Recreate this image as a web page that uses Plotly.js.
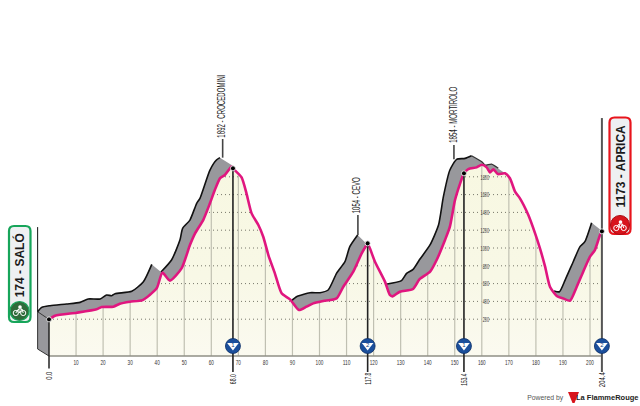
<!DOCTYPE html>
<html><head><meta charset="utf-8">
<script src="https://cdn.plot.ly/plotly-3.0.1.min.js"></script>
<style>html,body{margin:0;padding:0;background:#fff}#c{width:640px;height:406px}</style>
</head><body><div id="c"></div>
<script>
const kmTicks=[10,20,30,40,50,60,70,80,90,100,110,120,130,140,150,160,170,180,190,200];
const altTicks=[200,400,600,800,1000,1200,1400,1600,1800];
const frontKm=[0,2.2,10.2,17.6,19.5,23.8,26.2,29.9,34.6,39.8,41.9,44.7,49,52.1,54,57,59.5,61.3,63.2,65,67.5,68,71.2,73,74.9,77.4,79.2,81.1,83.5,86,89.1,92.4,95.2,97.7,101.4,106.3,108.8,112.5,115.6,117.4,117.8,120.5,124.2,126,127,129.7,134.6,137,140.9,143.3,146.4,148.2,150.1,152,153.4,155,158.1,160,161.8,163,164.3,165.9,168.6,170.4,172.3,174.1,177.2,179.7,181.5,183.4,185.2,187.7,190.1,192.6,195.1,197.5,200,201.8,203.7,204.4];
const frontAlt=[198,239,273,311,337,341,374,397,415,547,723,633,771,1033,1165,1314,1502,1651,1783,1820,1914,1895,1794,1614,1389,1258,1127,921,715,491,423,303,341,378,404,434,565,734,940,1034,1052,846,622,472,457,509,539,650,734,865,1090,1240,1539,1726,1839,1887,1906,1936,1906,1850,1884,1831,1839,1783,1633,1558,1371,1165,996,790,565,461,434,408,565,734,902,977,1146,1187];
const back1Km=[-4.2,-2.7,0.4,6.5,11.5,14.5,18.9,21.3,23.2,24.4,30.6,34.9,38,41.4,45.3,48.4,49.4,52.1,54.6,55.8,59.5,61.9,63.2,67.5];
const back1Alt=[284,333,352,371,389,427,427,472,464,487,513,621,816,730,865,1089,1221,1314,1502,1558,1876,1989,2015,1932];
const back2Km=[89.7,91.5,96.5,100.2,103.2,106.3,109.4,111.2,114.1,117.2];
const back2Alt=[408,453,498,498,528,715,846,1015,1146,1052];
const back3Km=[125,130.3,132.2,134.6,137,140.85,144,145.8,148.2,150.7,153.8,156.2,160,161.2,163.6,166.1,168.6];
const back3Alt=[595,633,715,760,870,1034,1258,1577,1876,1996,2007,2037,1970,1932,1943,1895,1839];
const back4Km=[186.7,188.7,190.8,193.8,196.3,198.1,200.6,204];
const back4Alt=[517,509,640,846,1015,1071,1284,1202];
const wallKm=[-4.2,0];
const wallAlt=[-135,-214];
const checkKm=[68,117.8,153.4,204.4];
const checkLabels=['68.0','117.8','153.4','204.4'];
const checkNum=['1','2','1','2'];
const climbNames=['1892 - CROCEDOMINI','1054 - CEVO','1854 - MORTIROLO'];
const climbKm=[64.2,114.2,149.7];
const climbFoot=[2015,1146,1996];
const climbHead=[2225,1371,2157];

const W=640,H=406,K=2.705,M=0.089;
const xr=[-49/K,(W-49)/K], yr=[(337-H)/M,337/M];
const base=yr[0]+(H-356)/M;
const dropEnd=(337-372)/M, badgeY=(337-346)/M;
const X=p=>p/W, Y=p=>1-p/H;
const interp=(km)=>{for(let i=1;i<frontKm.length;i++){if(frontKm[i]>=km){const t=(km-frontKm[i-1])/(frontKm[i]-frontKm[i-1]);return frontAlt[i-1]+t*(frontAlt[i]-frontAlt[i-1]);}}return frontAlt[frontAlt.length-1];};
const slice=(a,b)=>{const xs=[],ys=[];frontKm.forEach((k,i)=>{if(k>=a&&k<=b){xs.push(k);ys.push(frontAlt[i]);}});return [xs,ys];};
const L=(x,y,color,width,dash,extra)=>Object.assign({x,y,mode:'lines',type:'scatter',hoverinfo:'skip',showlegend:false,line:{color,width,dash:dash||'solid',shape:'linear'}},extra||{});
const S=(x,y,color,width)=>{const t=L(x,y,color,width);t.line.shape='spline';t.line.smoothing=0.6;return t;};
const band=(bk,ba,a,b)=>{const [fx,fy]=slice(a,b);return L(bk.concat(fx.slice().reverse()),ba.concat(fy.slice().reverse()),'rgba(0,0,0,0)',0,null,{fill:'toself',fillcolor:'#98989c'});};

const traces=[];
traces.push(L([0,204.4,204.4,0,0],[2300,2300,base,base,2300],'rgba(0,0,0,0)',0,null,{fill:'toself',fillgradient:{type:'vertical',colorscale:[[0,'#fbfaf0'],[0.35,'#f8f8e6'],[1,'#f7f7e0']]}}));
altTicks.forEach(a=>traces.push(L([0,204.4],[a,a],'#77776a',1,'1px,3px')));
kmTicks.forEach(k=>traces.push(L([k,k],[base,2300],'#c0c0b2',1.2)));
traces.push(L(frontKm.concat([204.4,0,0]),frontAlt.concat([3000,3000,frontAlt[0]]),'rgba(0,0,0,0)',0,null,{fill:'toself',fillcolor:'#ffffff'}));
traces.push(L([wallKm[0],wallKm[0],0,0,wallKm[0]],[back1Alt[0],wallAlt[0],wallAlt[1],frontAlt[0],back1Alt[0]],'rgba(0,0,0,0)',0,null,{fill:'toself',fillcolor:'#98989c'}));
traces.push(band(back1Km,back1Alt,0,67.5));
traces.push(band(back2Km,back2Alt,89.1,117.4));
traces.push(band(back3Km,back3Alt,124.2,168.6));
traces.push(band(back4Km,back4Alt,187.7,203.7));
traces.push(L([wallKm[0],wallKm[0],0],[back1Alt[0],wallAlt[0],wallAlt[1]],'#333',1));
traces.push(L([wallKm[0],0],[back1Alt[0],frontAlt[0]],'#333',1));
traces.push(S(back1Km.slice(0,13),back1Alt.slice(0,13),'#111',1.6));
traces.push(S(back1Km.slice(13,23),back1Alt.slice(13,23),'#111',1.6));
traces.push(S(back2Km.slice(0,9),back2Alt.slice(0,9),'#111',1.6));
traces.push(S(back3Km.slice(0,12),back3Alt.slice(0,12),'#111',1.6));
traces.push(S(back3Km.slice(11,16),back3Alt.slice(11,16),'#333',1.2));
traces.push(S(back4Km.slice(0,7),back4Alt.slice(0,7),'#111',1.6));
traces.push(L([0,204.4],[base,base],'#8f8f86',1.5));
traces.push(L([0,0],[frontAlt[0],dropEnd+40],'#222',1.5));
climbKm.forEach((k,i)=>traces.push(L([k,k],[climbFoot[i],climbHead[i]],'#444',1.6)));
traces.push(L([wallKm[0],wallKm[0]],[back1Alt[0],1235],'#111',1));
traces.push(S(frontKm,frontAlt,'#e0167f',2.6));
checkKm.forEach((k,i)=>{
  const top=i===3?2460:interp(k);
  traces.push(L([k,k],[top,dropEnd],i===3?'#555':'#222',i===3?2:1.6));
});
traces.push({x:[0].concat(checkKm.slice(0,3),[204.4]),y:[frontAlt[0],interp(68),interp(117.8),interp(153.4),frontAlt[frontAlt.length-1]],mode:'markers',type:'scatter',hoverinfo:'skip',showlegend:false,marker:{color:'#000',size:5,line:{color:'#fff',width:0.8}}});
traces.push({x:checkKm,y:checkKm.map(()=>badgeY),mode:'markers',type:'scatter',hoverinfo:'skip',showlegend:false,marker:{symbol:'circle',color:'#1b4f9c',size:15,line:{color:'#0d2f66',width:0.8}}});
traces.push({x:checkKm,y:checkKm.map(()=>badgeY+5),mode:'markers+text',type:'scatter',hoverinfo:'skip',showlegend:false,marker:{symbol:'triangle-down',color:'#fff',size:10},text:checkNum,textposition:'middle center',textfont:{size:6,color:'#123a78',family:'Liberation Sans'}});

const fam='"Liberation Sans",sans-serif';
const ann=[];
const vtext=(x,y,text,size,color)=>({x,y,xref:'x',yref:'y',text,textangle:-90,showarrow:false,font:{size,color,family:fam},xanchor:'center',yanchor:'middle'});
ann.push(vtext(0,(337-376)/M,'0.0',9,'#333'));
checkKm.forEach((k,i)=>ann.push(vtext(k,(337-379)/M,checkLabels[i],9,'#222')));
const climbCentre=[(337-106.5)/M,(337-195.5)/M,(337-115)/M];
climbNames.forEach((n,i)=>ann.push(vtext(climbKm[i]-0.5,climbCentre[i],n,10,'#222')));
const pa=(x,y,text,size,color,angle)=>({xref:'paper',yref:'paper',x:X(x),y:Y(y),text,textangle:angle||0,showarrow:false,xanchor:'center',yanchor:'middle',font:{size,color,family:fam}});
ann.push(pa(19.3,265,'<b>174 - SALÓ</b>',12,'#1a1a1a',-90));
ann.push(pa(620,166.5,'<b>1173 - APRICA</b>',12,'#1a1a1a',-90));
ann.push(pa(545,397,'Powered by',8,'#555'));
ann.push(pa(607,397,'<b>La FlammeRouge</b>',7.5,'#222'));

const rr=(x0,y0,x1,y1,r)=>`M${X(x0+r)},${Y(y0)} L${X(x1-r)},${Y(y0)} Q${X(x1)},${Y(y0)} ${X(x1)},${Y(y0+r)} L${X(x1)},${Y(y1-r)} Q${X(x1)},${Y(y1)} ${X(x1-r)},${Y(y1)} L${X(x0+r)},${Y(y1)} Q${X(x0)},${Y(y1)} ${X(x0)},${Y(y1-r)} L${X(x0)},${Y(y0+r)} Q${X(x0)},${Y(y0)} ${X(x0+r)},${Y(y0)} Z`;
const P=(path,fill,lc,lw)=>({type:'path',xref:'paper',yref:'paper',path,fillcolor:fill||'rgba(0,0,0,0)',line:{color:lc||'rgba(0,0,0,0)',width:lw||0},layer:'below'});
const C=(cx,cy,r,fill,lc,lw)=>({type:'circle',xref:'paper',yref:'paper',x0:X(cx-r),x1:X(cx+r),y0:Y(cy+r),y1:Y(cy-r),fillcolor:fill,line:{color:lc||'rgba(0,0,0,0)',width:lw||0},layer:'above'});
const bike=(cx,cy)=>[
  C(cx-3.7,cy+2,2.6,'rgba(0,0,0,0)','#fff',1),
  C(cx+3.7,cy+2,2.6,'rgba(0,0,0,0)','#fff',1),
  Object.assign(P(`M${X(cx-3.7)},${Y(cy+2)} L${X(cx-1)},${Y(cy-2)} L${X(cx+2.5)},${Y(cy-2)} L${X(cx+3.7)},${Y(cy+2)} M${X(cx-1)},${Y(cy-2)} L${X(cx)},${Y(cy+2)} L${X(cx+2.5)},${Y(cy-2)}`,null,'#fff',1),{layer:'above'}),
  C(cx+0.5,cy-4,1.8,'#fff')
];
const shapes=[
  P(rr(9,226,30.5,322,5),'#eef0f2','#17a55a',2.2),
  C(19.5,311,9.5,'#2e6b3a','#17a55a',1.2),
  ...bike(19.5,311),
  P(rr(609.5,117.5,630.5,234,5),'#eef0f2','#e8141c',2.2),
  C(620,225,9.5,'#d8141c','#a80d14',1),
  ...bike(620,226),
  P(`M${X(568)},${Y(392)} L${X(579)},${Y(392)} L${X(574.5)},${Y(403)} L${X(572.5)},${Y(403)} Z`,'#d8141c')
];

const layout={width:W,height:H,margin:{l:0,r:0,t:0,b:0},paper_bgcolor:'#fff',plot_bgcolor:'rgba(0,0,0,0)',showlegend:false,
  xaxis:{range:xr,domain:[0,1],anchor:'free',position:(H-356)/H,showgrid:false,zeroline:false,showline:false,ticks:'',tickmode:'array',tickvals:kmTicks,ticktext:kmTicks.map(String),tickfont:{size:8,color:'#333',family:fam},ticklen:0},
  yaxis:{range:yr,domain:[0,1],anchor:'free',position:489/W,showgrid:false,zeroline:false,showline:false,ticks:'',tickmode:'array',tickvals:altTicks,ticktext:altTicks.map(String),tickfont:{size:8,color:'#333',family:fam},ticklen:0},
  annotations:ann,shapes};
const lengths={'0.0':8,'68.0':10,'117.8':12,'153.4':12,'204.4':15,'1892 - CROCEDOMINI':63,'1054 - CEVO':36,'1854 - MORTIROLO':56,'Powered by':36};
Plotly.newPlot('c',traces,layout,{staticPlot:true,displayModeBar:false}).then(()=>{
  const squeeze=(t,n)=>{t.setAttribute('textLength',n);t.setAttribute('lengthAdjust','spacingAndGlyphs');};
  document.querySelectorAll('.annotation-text').forEach(t=>{const n=lengths[t.textContent];if(n)squeeze(t,n);});
  document.querySelectorAll('.xtick text').forEach(t=>squeeze(t,t.textContent.length*2.6));
  document.querySelectorAll('.ytick text').forEach(t=>squeeze(t,t.textContent.length*2.1));
});
</script></body></html>
